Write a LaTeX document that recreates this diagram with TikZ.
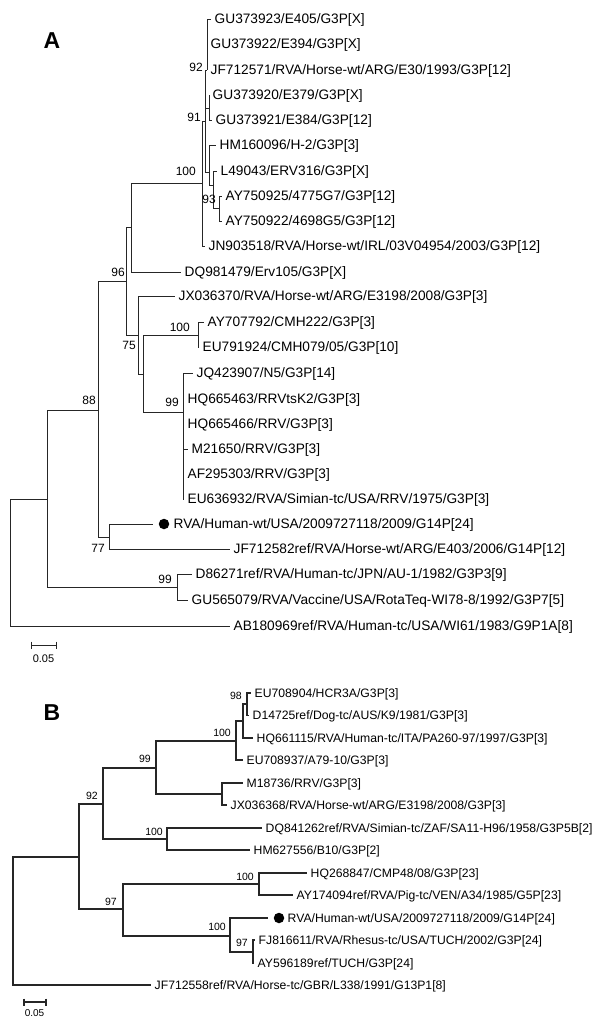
\documentclass[tikz,border=0pt]{standalone}
\usepackage{fontspec}
\setmainfont{Liberation Sans}
\usetikzlibrary{positioning}
\tikzset{
	leaf/.style={anchor=west, inner xsep=3.5pt, inner ysep=0pt,
		text height=9.8pt, text depth=0pt,
		font=\fontsize{13.7}{15}\selectfont},
	leafB/.style={leaf, text height=8.7pt,
		font=\fontsize{12.2}{14}\selectfont},
	boot/.style={anchor=east, inner sep=0pt, text height=8.6pt, text depth=0pt,
		font=\fontsize{12}{14}\selectfont},
	bootB/.style={boot, text height=7.5pt,
		font=\fontsize{10.5}{12}\selectfont},
	panel/.style={inner sep=0pt, font=\fontsize{23}{26}\selectfont\bfseries},
	scalelab/.style={inner sep=0pt, font=\fontsize{11}{12}\selectfont},
	tipdot/.style={circle, fill=black, inner sep=0pt, minimum size=10.5pt},
	branch/.style={draw=black!85, line width=0.8pt},
	branchB/.style={draw=black!85, line width=1.1pt}
}

\begin{document}
\begin{tikzpicture}[x=1pt, y=-1pt]
	\useasboundingbox (0,0) rectangle (600,1025);

	% tree A
	\node[panel] (labA) at (52,41) {A};
	\node[leaf] (GU373923) at (211,19) {GU373923/E405/G3P[X]};
	\node[leaf] (GU373922) at (207,44) {GU373922/E394/G3P[X]};
	\node[leaf] (JF712571) at (207,70) {JF712571/RVA/Horse-wt/ARG/E30/1993/G3P[12]};
	\node[leaf] (GU373920) at (209,95) {GU373920/E379/G3P[X]};
	\node[leaf] (GU373921) at (212,120) {GU373921/E384/G3P[12]};
	\node[leaf] (HM160096) at (216,145) {HM160096/H-2/G3P[3]};
	\node[leaf] (L49043) at (217,171) {L49043/ERV316/G3P[X]};
	\node[leaf] (AY750925) at (222,196) {AY750925/4775G7/G3P[12]};
	\node[leaf] (AY750922) at (222,221) {AY750922/4698G5/G3P[12]};
	\node[leaf] (JN903518) at (205,246) {JN903518/RVA/Horse-wt/IRL/03V04954/2003/G3P[12]};
	\node[leaf] (DQ981479) at (181,272) {DQ981479/Erv105/G3P[X]};
	\node[leaf] (JX036370) at (175,296) {JX036370/RVA/Horse-wt/ARG/E3198/2008/G3P[3]};
	\node[leaf] (AY707792) at (204,322) {AY707792/CMH222/G3P[3]};
	\node[leaf] (EU791924) at (199,347) {EU791924/CMH079/05/G3P[10]};
	\node[leaf] (JQ423907) at (193,373) {JQ423907/N5/G3P[14]};
	\node[leaf] (HQ665463) at (184,399) {HQ665463/RRVtsK2/G3P[3]};
	\node[leaf] (HQ665466) at (184,424) {HQ665466/RRV/G3P[3]};
	\node[leaf] (M21650) at (188,449) {M21650/RRV/G3P[3]};
	\node[leaf] (AF295303) at (184,474) {AF295303/RRV/G3P[3]};
	\node[leaf] (EU636932) at (184,499) {EU636932/RVA/Simian-tc/USA/RRV/1975/G3P[3]};
	\coordinate (tipHumA) at (153,524);
	\node[tipdot] (dotHumA) at (164,524) {};
	\node[leaf] (HumA) at (170,524) {RVA/Human-wt/USA/2009727118/2009/G14P[24]};
	\node[leaf] (JF712582) at (230,549) {JF712582ref/RVA/Horse-wt/ARG/E403/2006/G14P[12]};
	\node[leaf] (D86271) at (192,574) {D86271ref/RVA/Human-tc/JPN/AU-1/1982/G3P3[9]};
	\node[leaf] (GU565079) at (188,600) {GU565079/RVA/Vaccine/USA/RotaTeq-WI78-8/1992/G3P7[5]};
	\node[leaf] (AB180969) at (230,626) {AB180969ref/RVA/Human-tc/USA/WI61/1983/G9P1A[8]};

	\coordinate (rA) at (10,562);
	\coordinate (n47) at (47,499);
	\coordinate (n88) at (98,410);
	\coordinate (n96) at (126,281);
	\coordinate (nX) at (131,227);
	\coordinate (n100a) at (202,183);
	\coordinate (n91) at (205,121);
	\coordinate (n92) at (207,70);
	\coordinate (nGU) at (209,108);
	\coordinate (nH) at (209,172);
	\coordinate (nL) at (213,185);
	\coordinate (n93) at (219,208);
	\coordinate (n75) at (138,335);
	\coordinate (nZ) at (143,374);
	\coordinate (n100b) at (198,335);
	\coordinate (n99a) at (183,412);
	\coordinate (n77) at (109,537);
	\coordinate (n99b) at (177,587);

	\foreach \a/\b in {rA/n47, rA/AB180969.west, n47/n88, n47/n99b, n88/n96, n88/n77,
		n96/nX, n96/n75, nX/n100a, nX/DQ981479.west, n100a/n91, n100a/JN903518.west,
		n91/n92, n91/nGU, n91/nH, n92/GU373923.west, n92/GU373922.west, n92/JF712571.west,
		nGU/GU373920.west, nGU/GU373921.west, nH/HM160096.west, nH/nL,
		nL/L49043.west, nL/n93, n93/AY750925.west, n93/AY750922.west,
		n75/JX036370.west, n75/nZ, nZ/n100b, nZ/n99a,
		n100b/AY707792.west, n100b/EU791924.west,
		n99a/JQ423907.west, n99a/HQ665463.west, n99a/HQ665466.west, n99a/M21650.west,
		n99a/AF295303.west, n99a/EU636932.west,
		n77/tipHumA, n77/JF712582.west, n99b/D86271.west, n99b/GU565079.west}
		\draw[branch] (\a) |- (\b);

	\node[boot] (b92) at (203,67) {92};
	\node[boot] (b91) at (201,117) {91};
	\node[boot] (b100a) at (196,171) {100};
	\node[boot] (b93) at (216,199) {93};
	\node[boot] (b96) at (125,272) {96};
	\node[boot] (b100b) at (190,327) {100};
	\node[boot] (b75) at (136,345) {75};
	\node[boot] (b88) at (96,400) {88};
	\node[boot] (b99a) at (179,402) {99};
	\node[boot] (b77) at (105,548) {77};
	\node[boot] (b99b) at (172,579) {99};

	\coordinate (sbA1) at (31,645);
	\coordinate (sbA2) at (56,645);
	\draw[branch] (sbA1) -- (sbA2) (sbA1) ++(0,-3.5) -- ++(0,7) (sbA2) ++(0,-3.5) -- ++(0,7);
	\node[scalelab] (sbAlab) at (43.5,659) {0.05};

	% tree B
	\node[panel] (labB) at (52,713) {B};
	\node[leafB] (EU708904) at (251,693) {EU708904/HCR3A/G3P[3]};
	\node[leafB] (D14725) at (249,715.5) {D14725ref/Dog-tc/AUS/K9/1981/G3P[3]};
	\node[leafB] (HQ661115) at (253,738) {HQ661115/RVA/Human-tc/ITA/PA260-97/1997/G3P[3]};
	\node[leafB] (EU708937) at (243,760) {EU708937/A79-10/G3P[3]};
	\node[leafB] (M18736) at (243,783) {M18736/RRV/G3P[3]};
	\node[leafB] (JX036368) at (227,805) {JX036368/RVA/Horse-wt/ARG/E3198/2008/G3P[3]};
	\node[leafB] (DQ841262) at (262,828) {DQ841262ref/RVA/Simian-tc/ZAF/SA11-H96/1958/G3P5B[2]};
	\node[leafB] (HM627556) at (250,850) {HM627556/B10/G3P[2]};
	\node[leafB] (HQ268847) at (307,873) {HQ268847/CMP48/08/G3P[23]};
	\node[leafB] (AY174094) at (293,895) {AY174094ref/RVA/Pig-tc/VEN/A34/1985/G5P[23]};
	\coordinate (tipHumB) at (268,918);
	\node[tipdot] (dotHumB) at (279,918) {};
	\node[leafB] (HumB) at (284,918) {RVA/Human-wt/USA/2009727118/2009/G14P[24]};
	\node[leafB] (FJ816611) at (255,940) {FJ816611/RVA/Rhesus-tc/USA/TUCH/2002/G3P[24]};
	\node[leafB] (AY596189) at (254,963) {AY596189ref/TUCH/G3P[24]};
	\node[leafB] (JF712558) at (151,985) {JF712558ref/RVA/Horse-tc/GBR/L338/1991/G13P1[8]};

	\coordinate (rB) at (13,921);
	\coordinate (n79) at (79,857);
	\coordinate (n92B) at (103,804);
	\coordinate (n99B) at (156,768);
	\coordinate (n100B) at (236,741);
	\coordinate (nQ) at (243,721);
	\coordinate (n98) at (247,704);
	\coordinate (nM) at (222,794);
	\coordinate (n100c) at (167,839);
	\coordinate (n97) at (123,909);
	\coordinate (n100d) at (259,884);
	\coordinate (n100e) at (230,936);
	\coordinate (n97b) at (253,952);

	\foreach \a/\b in {rB/n79, rB/JF712558.west, n79/n92B, n79/n97,
		n92B/n99B, n92B/n100c, n99B/n100B, n99B/nM,
		n100B/nQ, n100B/EU708937.west, nQ/n98, nQ/HQ661115.west,
		n98/EU708904.west, n98/D14725.west, nM/M18736.west, nM/JX036368.west,
		n100c/DQ841262.west, n100c/HM627556.west, n97/n100d, n97/n100e,
		n100d/HQ268847.west, n100d/AY174094.west, n100e/tipHumB, n100e/n97b,
		n97b/FJ816611.west, n97b/AY596189.west}
		\draw[branchB] (\a) |- (\b);

	\node[bootB] (b98) at (242,696) {98};
	\node[bootB] (b100B) at (231,733) {100};
	\node[bootB] (b99B) at (151,759) {99};
	\node[bootB] (b92B) at (98,796) {92};
	\node[bootB] (b100c) at (163,832) {100};
	\node[bootB] (b100d) at (254,877) {100};
	\node[bootB] (b97) at (117,902) {97};
	\node[bootB] (b100e) at (226,927) {100};
	\node[bootB] (b97b) at (248,943) {97};

	\coordinate (sbB1) at (24,1002);
	\coordinate (sbB2) at (46,1002);
	\draw[branchB] (sbB1) -- (sbB2) (sbB1) ++(0,-3.5) -- ++(0,7) (sbB2) ++(0,-3.5) -- ++(0,7);
	\node[scalelab, font=\fontsize{10}{11}\selectfont] (sbBlab) at (34.5,1013) {0.05};
\end{tikzpicture}
\end{document}
